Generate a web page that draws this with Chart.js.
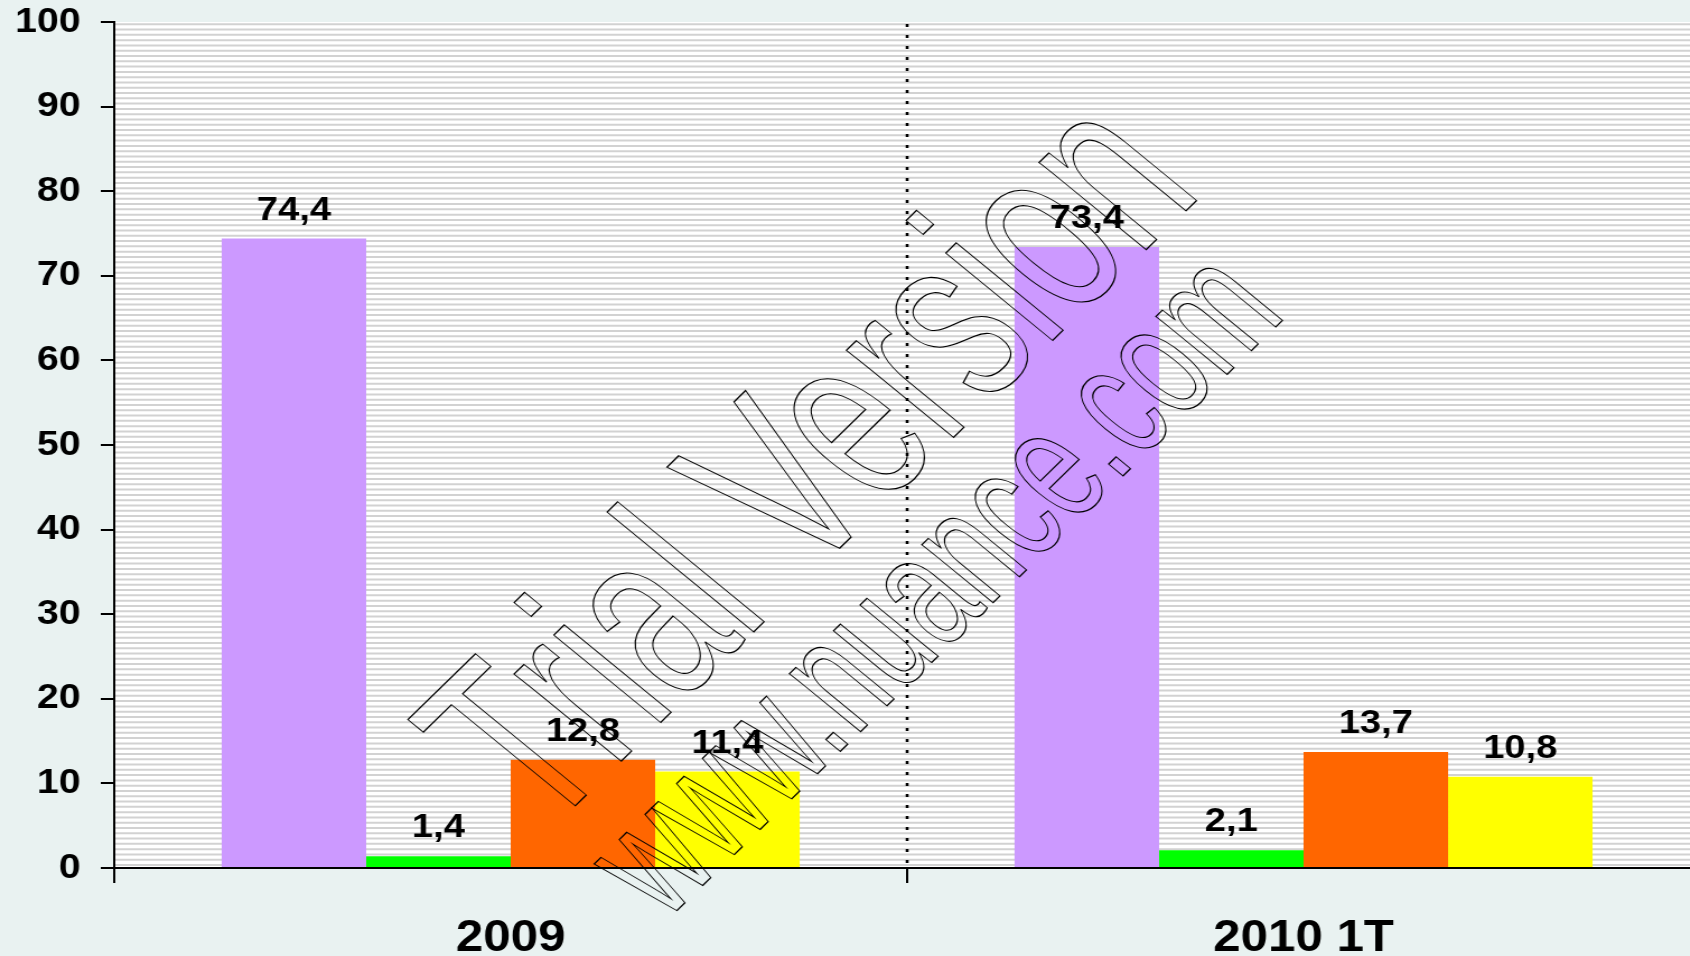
<!DOCTYPE html>
<html lang="es">
<head>
  <meta charset="UTF-8" />
  <title>2009 / 2010 1T</title>
  <script src="https://cdn.jsdelivr.net/npm/chart.js"></script>
  <style>
    * { margin: 0; padding: 0; box-sizing: border-box; }
    body { background: #e9f2f1; overflow: hidden; width: 1690px; height: 956px; }
    /* the original picture is stretched sideways, so the canvas is drawn narrow and widened by css */
    #chart { display: block; width: 1700px; height: 956px; }
  </style>
</head>
<body>
<canvas id="chart" width="1518" height="956" style="width:1700px;height:956px"></canvas>
<script>
  const categories = ["2009", "2010 1T"];
  const serie1 = [74.4, 73.4];
  const serie2 = [1.4, 2.1];
  const serie3 = [12.8, 13.7];
  const serie4 = [11.4, 10.8];
  const yTicks = [0, 10, 20, 30, 40, 50, 60, 70, 80, 90, 100];

  const fontFamily = "'Liberation Sans', Arial, sans-serif";

  // background + fine horizontal stripes in the plot area
  const stripes = {
    id: "stripes",
    beforeDraw(chart) {
      const { ctx, chartArea: a, scales: { y } } = chart;
      ctx.save();
      ctx.fillStyle = "#e9f2f1";
      ctx.fillRect(0, 0, chart.width, chart.height);
      ctx.fillStyle = "#ffffff";
      ctx.fillRect(a.left, a.top, a.right - a.left, a.bottom - a.top);
      const step = (y.getPixelForValue(0) - y.getPixelForValue(10)) / 16;
      ctx.strokeStyle = "#d2d2d2";
      ctx.lineWidth = 2;
      for (let py = a.bottom - 3; py > a.top + 1; py -= step) {
        ctx.beginPath();
        ctx.moveTo(a.left, py);
        ctx.lineTo(a.right, py);
        ctx.stroke();
      }
      ctx.restore();
    }
  };

  // dotted separator between the two groups
  const separator = {
    id: "separator",
    beforeDatasetsDraw(chart) {
      const { ctx, chartArea: a, scales: { x } } = chart;
      const px = (x.getPixelForValue(0) + x.getPixelForValue(1)) / 2;
      ctx.save();
      ctx.strokeStyle = "#000";
      ctx.lineWidth = 2.6;
      ctx.setLineDash([3, 8]);
      ctx.beginPath();
      ctx.moveTo(px, a.top + 2);
      ctx.lineTo(px, a.bottom);
      ctx.stroke();
      ctx.restore();
    }
  };

  // value labels above every bar
  const valueLabels = {
    id: "valueLabels",
    afterDatasetsDraw(chart) {
      const ctx = chart.ctx;
      ctx.save();
      ctx.fillStyle = "#000";
      ctx.font = "bold 34px " + fontFamily;
      ctx.textAlign = "center";
      ctx.textBaseline = "alphabetic";
      chart.data.datasets.forEach((ds, i) => {
        chart.getDatasetMeta(i).data.forEach((bar, j) => {
          const txt = String(ds.data[j]).replace(".", ",");
          ctx.fillText(txt, bar.x, bar.y - 19);
        });
      });
      ctx.restore();
    }
  };

  // outlined trial watermark over the chart
  const watermark = {
    id: "watermark",
    afterDraw(chart) {
      const ctx = chart.ctx;
      const lines = [
        { text: "Trial Version", x: 486, y: 836, size: 158 },
        { text: "www.nuance.com", x: 594, y: 922, size: 105 }
      ];
      ctx.save();
      ctx.strokeStyle = "#000";
      lines.forEach(l => {
        ctx.save();
        ctx.translate(l.x, l.y);
        ctx.rotate(-47.5 * Math.PI / 180);
        ctx.scale(1, 1.55);
        ctx.lineWidth = 0.85;
        ctx.font = l.size + "px " + fontFamily;
        ctx.textBaseline = "alphabetic";
        ctx.strokeText(l.text, 0, 0);
        ctx.restore();
      });
      ctx.restore();
    }
  };

  new Chart(document.getElementById("chart"), {
    type: "bar",
    data: {
      labels: categories,
      datasets: [
        { label: "Serie 1", data: serie1, backgroundColor: "#cc99ff" },
        { label: "Serie 2", data: serie2, backgroundColor: "#00ff00" },
        { label: "Serie 3", data: serie3, backgroundColor: "#ff6600" },
        { label: "Serie 4", data: serie4, backgroundColor: "#ffff00" }
      ]
    },
    options: {
      responsive: false,
      animation: false,
      devicePixelRatio: 1,
      layout: { padding: { top: 22, left: 0, right: 0, bottom: 0 } },
      datasets: { bar: { categoryPercentage: 0.729, barPercentage: 1.0, borderWidth: 0 } },
      plugins: {
        legend: { display: false },
        tooltip: { enabled: false }
      },
      scales: {
        x: {
          offset: true,
          border: { display: true, color: "#000", width: 2 },
          grid: { drawOnChartArea: false, drawTicks: true, tickLength: 15, color: "#000", lineWidth: 2 },
          ticks: {
            color: "#000",
            padding: 29,
            font: { family: fontFamily, size: 44, weight: "bold" }
          },
          afterFit(s) { s.height = 88; s.paddingLeft = 0; s.paddingRight = 0; }
        },
        y: {
          min: 0,
          max: 100,
          afterBuildTicks(s) { s.ticks = yTicks.map(v => ({ value: v })); },
          border: { display: true, color: "#000", width: 2 },
          grid: { drawOnChartArea: false, drawTicks: true, tickLength: 12, color: "#000", lineWidth: 2 },
          ticks: {
            color: "#000",
            padding: 18,
            font: { family: fontFamily, size: 35, weight: "bold" }
          },
          afterFit(s) { s.width = 102; s.paddingTop = 0; s.paddingBottom = 0; }
        }
      }
    },
    plugins: [stripes, separator, valueLabels, watermark]
  });
</script>
</body>
</html>
